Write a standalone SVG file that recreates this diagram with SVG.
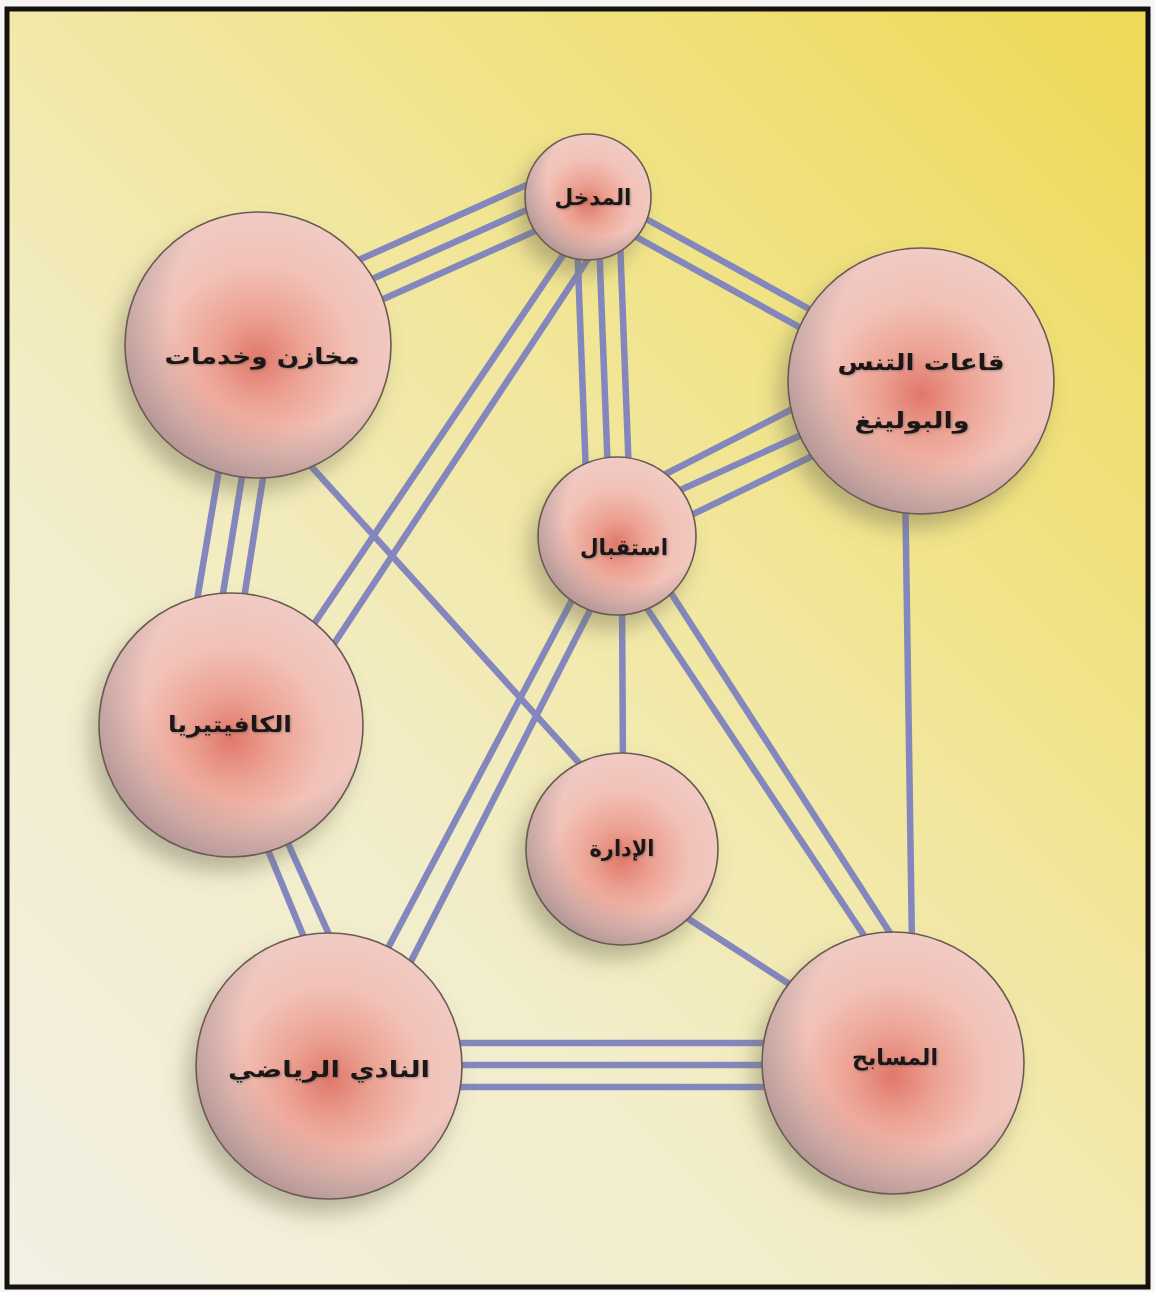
<svg xmlns="http://www.w3.org/2000/svg" width="1155" height="1292" viewBox="0 0 1155 1292">
<defs>
<linearGradient id="bg" x1="0.05" y1="1" x2="0.95" y2="0">
<stop offset="0" stop-color="#f3efe2"/>
<stop offset="0.35" stop-color="#f2edc8"/>
<stop offset="0.7" stop-color="#f1e48a"/>
<stop offset="1" stop-color="#efd95a"/>
</linearGradient>
<radialGradient id="core" cx="0.5" cy="0.55" r="0.55">
<stop offset="0" stop-color="#e0786a"/>
<stop offset="0.3" stop-color="#eca293"/>
<stop offset="0.65" stop-color="#f2c2b8"/>
<stop offset="1" stop-color="#f0cbc4"/>
</radialGradient>
<radialGradient id="shade" cx="0.62" cy="0.36" r="0.72">
<stop offset="0.62" stop-color="#7a6a70" stop-opacity="0"/>
<stop offset="1" stop-color="#7a6a70" stop-opacity="0.6"/>
</radialGradient>
<filter id="drop" x="-30%" y="-30%" width="160%" height="170%">
<feDropShadow dx="-9" dy="14" stdDeviation="11" flood-color="#6e6a55" flood-opacity="0.45"/>
</filter>
<filter id="tsh" x="-10%" y="-30%" width="120%" height="160%">
<feDropShadow dx="1" dy="1" stdDeviation="1" flood-color="#555" flood-opacity="0.5"/>
</filter>
</defs>
<style>
.ln{stroke:#8387bd;stroke-width:6.5;stroke-linecap:butt;fill:none}
.node .c{fill:url(#core);filter:url(#drop)}
.node .s{fill:url(#shade);stroke:#6b5a52;stroke-width:1.6}
.node text{font-family:"DejaVu Sans","Noto Sans",sans-serif;font-weight:bold;font-size:22px;fill:#1c1512;text-anchor:middle;filter:url(#tsh)}
</style>
<rect x="0" y="0" width="1155" height="1292" fill="#f6f5f2"/>
<rect x="7" y="9" width="1141" height="1278" fill="url(#bg)" stroke="#141210" stroke-width="5"/>

<g id="connectors">
<line class="ln" x1="343" y1="267" x2="560" y2="170"/>
<line class="ln" x1="352" y1="288" x2="569" y2="191"/>
<line class="ln" x1="361" y1="309" x2="578" y2="212"/>
<line class="ln" x1="610" y1="199" x2="840" y2="326"/>
<line class="ln" x1="600" y1="217" x2="830" y2="344"/>
<line class="ln" x1="577" y1="240" x2="586" y2="475"/>
<line class="ln" x1="599" y1="240" x2="608" y2="475"/>
<line class="ln" x1="620" y1="240" x2="629" y2="475"/>
<line class="ln" x1="580" y1="230" x2="293" y2="655"/>
<line class="ln" x1="607" y1="230" x2="320" y2="665"/>
<line class="ln" x1="224" y1="440" x2="192" y2="630"/>
<line class="ln" x1="248" y1="440" x2="217" y2="630"/>
<line class="ln" x1="269" y1="440" x2="239" y2="630"/>
<line class="ln" x1="300" y1="454" x2="590" y2="775"/>
<line class="ln" x1="650" y1="482" x2="820" y2="395"/>
<line class="ln" x1="665" y1="497" x2="830" y2="422"/>
<line class="ln" x1="675" y1="523" x2="835" y2="445"/>
<line class="ln" x1="905" y1="480" x2="912" y2="945"/>
<line class="ln" x1="580" y1="585" x2="379" y2="965"/>
<line class="ln" x1="603" y1="585" x2="404" y2="975"/>
<line class="ln" x1="622" y1="600" x2="623" y2="770"/>
<line class="ln" x1="640" y1="598" x2="877" y2="955"/>
<line class="ln" x1="669" y1="590" x2="901" y2="950"/>
<line class="ln" x1="263" y1="838" x2="310" y2="952"/>
<line class="ln" x1="282" y1="830" x2="336" y2="950"/>
<line class="ln" x1="670" y1="907" x2="800" y2="991"/>
<line class="ln" x1="450" y1="1043" x2="775" y2="1043"/>
<line class="ln" x1="450" y1="1065" x2="775" y2="1065"/>
<line class="ln" x1="450" y1="1087" x2="775" y2="1087"/>
</g>

<g id="node-entrance" class="node">
<circle class="c" cx="588" cy="197" r="63"/><circle class="s" cx="588" cy="197" r="63"/>
<text x="593" y="205" textLength="77" lengthAdjust="spacingAndGlyphs">المدخل</text>
</g>
<g id="node-storage" class="node">
<circle class="c" cx="258" cy="345" r="133"/><circle class="s" cx="258" cy="345" r="133"/>
<text x="262" y="364" textLength="195" lengthAdjust="spacingAndGlyphs">مخازن وخدمات</text>
</g>
<g id="node-tennis" class="node">
<circle class="c" cx="921" cy="381" r="133"/><circle class="s" cx="921" cy="381" r="133"/>
<text x="921" y="370" textLength="167" lengthAdjust="spacingAndGlyphs">قاعات التنس</text>
<text x="912" y="428" textLength="115" lengthAdjust="spacingAndGlyphs">والبولينغ</text>
</g>
<g id="node-reception" class="node">
<circle class="c" cx="617" cy="536" r="79"/><circle class="s" cx="617" cy="536" r="79"/>
<text x="624" y="555" textLength="88" lengthAdjust="spacingAndGlyphs">استقبال</text>
</g>
<g id="node-cafeteria" class="node">
<circle class="c" cx="231" cy="725" r="132"/><circle class="s" cx="231" cy="725" r="132"/>
<text x="230" y="732" textLength="124" lengthAdjust="spacingAndGlyphs">الكافيتيريا</text>
</g>
<g id="node-admin" class="node">
<circle class="c" cx="622" cy="849" r="96"/><circle class="s" cx="622" cy="849" r="96"/>
<text x="622" y="856" textLength="65" lengthAdjust="spacingAndGlyphs">الإدارة</text>
</g>
<g id="node-club" class="node">
<circle class="c" cx="329" cy="1066" r="133"/><circle class="s" cx="329" cy="1066" r="133"/>
<text x="329" y="1077" textLength="202" lengthAdjust="spacingAndGlyphs">النادي الرياضي</text>
</g>
<g id="node-pools" class="node">
<circle class="c" cx="893" cy="1063" r="131"/><circle class="s" cx="893" cy="1063" r="131"/>
<text x="895" y="1065" textLength="86" lengthAdjust="spacingAndGlyphs">المسابح</text>
</g>
</svg>
